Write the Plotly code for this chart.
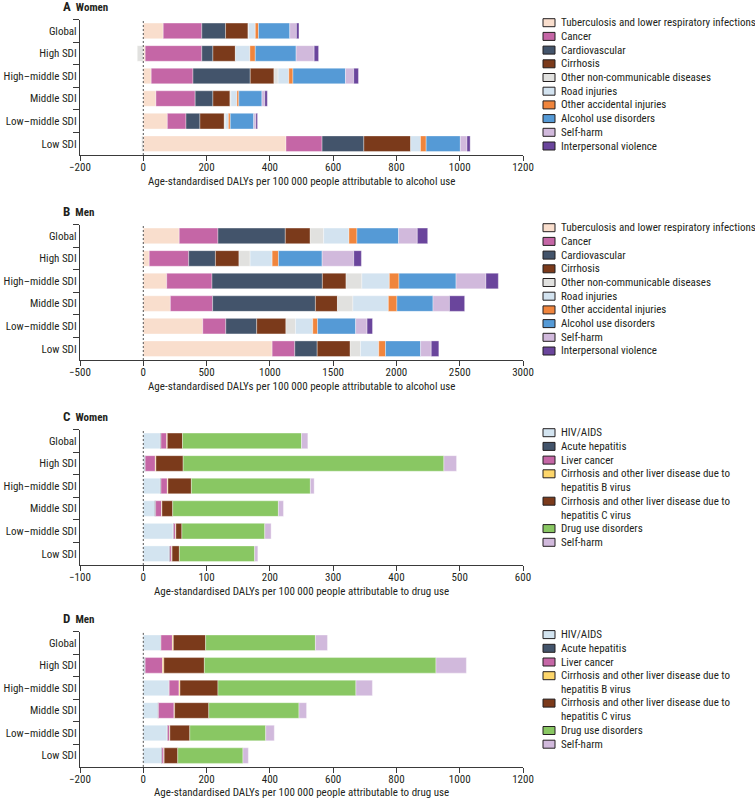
import plotly.graph_objects as go

# ---------------- data ----------------
regions = ["Global", "High SDI", "High–middle SDI", "Middle SDI", "Low–middle SDI", "Low SDI"]

alcohol_causes = ["Tuberculosis and lower respiratory infections", "Cancer", "Cardiovascular", "Cirrhosis",
                  "Other non-communicable diseases", "Road injuries", "Other accidental injuries",
                  "Alcohol use disorders", "Self-harm", "Interpersonal violence"]
alcohol_colors = ["#F9DECD", "#C566A6", "#43546B", "#7B3A1B", "#E1E1DF", "#D3E3F0",
                  "#F0853D", "#559AD6", "#D1B9DC", "#6A459C"]

drug_causes = ["HIV/AIDS", "Acute hepatitis", "Liver cancer",
               "Cirrhosis and other liver disease due to<br>hepatitis B virus",
               "Cirrhosis and other liver disease due to<br>hepatitis C virus",
               "Drug use disorders", "Self-harm"]
drug_colors = ["#D3E4F0", "#43546B", "#C566A6", "#FDD66B", "#7B3A1B", "#89C763", "#D1B9DC"]

# Panel A: women, alcohol (Global, High, High-middle, Middle, Low-middle, Low)
women_alc_tb = [63, 6, 25, 40, 76, 451]
women_alc_cancer = [122, 179, 132, 124, 59, 114]
women_alc_cardio = [75, 35, 181, 56, 44, 132]
women_alc_cirrhosis = [71, 71, 75, 54, 77, 148]
women_alc_other_ncd = [2, -19, 13, 3, 3, -5]
women_alc_road = [21, 46, 34, 19, 10, 31]
women_alc_other_acc = [10, 17, 13, 6, 6, 18]
women_alc_aud = [99, 129, 166, 73, 74, 108]
women_alc_selfharm = [21, 57, 26, 9, 7, 21]
women_alc_violence = [8, 14, 15, 8, 5, 10]

# Panel B: men, alcohol
men_alc_tb = [284, 47, 185, 214, 470, 1018]
men_alc_cancer = [306, 312, 358, 334, 182, 179]
men_alc_cardio = [532, 211, 872, 812, 244, 177]
men_alc_cirrhosis = [197, 186, 187, 174, 231, 261]
men_alc_other_ncd = [106, 88, 125, 122, 76, 81]
men_alc_road = [200, 174, 217, 280, 136, 144]
men_alc_other_acc = [63, 50, 76, 68, 38, 54]
men_alc_aud = [329, 345, 451, 285, 301, 277]
men_alc_selfharm = [148, 250, 236, 130, 90, 84]
men_alc_violence = [82, 60, 98, 120, 43, 60]

# Panel C: women, drugs
women_drug_hiv = [27, 2, 27, 18, 47, 41]
women_drug_acute_hep = [1, 1, 1, 1.5, 1, 1]
women_drug_liver_cancer = [9, 16, 10, 9.5, 3, 3]
women_drug_hep_b = [1, 1, 1, 0.5, 0.5, 0.5]
women_drug_hep_c = [24, 43, 37, 17, 9.5, 11.5]
women_drug_disorders = [188, 412, 188, 167, 131, 119]
women_drug_selfharm = [10, 20, 6, 8, 10, 5]

# Panel D: men, drugs
men_drug_hiv = [55, 4, 81, 46, 75, 57]
men_drug_acute_hep = [1, 2, 1, 2, 2, 2]
men_drug_liver_cancer = [36, 55, 31, 49, 6, 6]
men_drug_hep_b = [3, 4, 3, 2, 1, 1]
men_drug_hep_c = [102, 128, 120, 108, 63, 43]
men_drug_disorders = [347, 732, 436, 285, 240, 206]
men_drug_selfharm = [38, 96, 52, 24, 27, 17]

x_ranges = [[-200, 1200], [-500, 3000], [-100, 600], [-200, 1200]]
x_dticks = [200, 500, 100, 200]
panel_letters = ["A", "B", "C", "D"]
panel_sexes = ["Women", "Men", "Women", "Men"]
x_titles = ["Age-standardised DALYs per 100 000 people attributable to alcohol use",
            "Age-standardised DALYs per 100 000 people attributable to alcohol use",
            "Age-standardised DALYs per 100 000 people attributable to drug use",
            "Age-standardised DALYs per 100 000 people attributable to drug use"]

panels = [
    (alcohol_causes, alcohol_colors, [women_alc_tb, women_alc_cancer, women_alc_cardio, women_alc_cirrhosis,
                                      women_alc_other_ncd, women_alc_road, women_alc_other_acc, women_alc_aud,
                                      women_alc_selfharm, women_alc_violence]),
    (alcohol_causes, alcohol_colors, [men_alc_tb, men_alc_cancer, men_alc_cardio, men_alc_cirrhosis,
                                      men_alc_other_ncd, men_alc_road, men_alc_other_acc, men_alc_aud,
                                      men_alc_selfharm, men_alc_violence]),
    (drug_causes, drug_colors, [women_drug_hiv, women_drug_acute_hep, women_drug_liver_cancer, women_drug_hep_b,
                                women_drug_hep_c, women_drug_disorders, women_drug_selfharm]),
    (drug_causes, drug_colors, [men_drug_hiv, men_drug_acute_hep, men_drug_liver_cancer, men_drug_hep_b,
                                men_drug_hep_c, men_drug_disorders, men_drug_selfharm]),
]

# ---------------- layout helpers ----------------
W, H = 755, 799
FONT = "Liberation Sans Narrow, Arial Narrow, Roboto Condensed, Roboto, sans-serif"
TXT = "#231F20"
AXC = "#3A3A3A"
FS = 11

def fx(p):
    return p / W

def fy(p):
    return 1 - p / H

plot_left, plot_right = 80, 523
panel_tops = [19.6, 224.6, 429.6, 631.5]
panel_h = 135.4
LINE = 13.7

fig = go.Figure()
shapes = []
annotations = []
layout_axes = {}

for i, (causes, colors, series) in enumerate(panels):
    xa = "x" if i == 0 else f"x{i+1}"
    ya = "y" if i == 0 else f"y{i+1}"
    for name, color, vals in zip(causes, colors, series):
        fig.add_trace(go.Bar(
            y=regions, x=vals, orientation="h", name=name.replace("<br>", " "),
            marker=dict(color=color, line=dict(color="rgba(255,255,255,0.7)", width=0.5)),
            xaxis=xa, yaxis=ya, showlegend=False,
        ))
    top = panel_tops[i]
    bottom = top + panel_h
    xkey = "xaxis" if i == 0 else f"xaxis{i+1}"
    ykey = "yaxis" if i == 0 else f"yaxis{i+1}"
    layout_axes[xkey] = dict(
        domain=[fx(plot_left), fx(plot_right)], anchor=ya, range=x_ranges[i], dtick=x_dticks[i],
        tick0=x_ranges[i][0], ticks="outside", ticklen=5, tickwidth=1.2, tickcolor=AXC,
        ticklabelstandoff=-3,
        showline=True, linecolor=AXC, linewidth=1.3, showgrid=False, zeroline=False,
        tickfont=dict(family=FONT, size=FS, color=TXT), automargin=False,
    )
    layout_axes[ykey] = dict(
        domain=[fy(bottom), fy(top)], anchor=xa, type="category", categoryorder="array",
        categoryarray=regions, autorange="reversed", tickson="boundaries", ticks="outside",
        ticklen=6, tickwidth=1.2, tickcolor=AXC, showline=True, linecolor=AXC, linewidth=1.3,
        showgrid=False, zeroline=False, tickfont=dict(family=FONT, size=FS, color=TXT),
        automargin=False,
    )
    # zero dashed line
    shapes.append(dict(type="line", xref=xa, yref=f"{ya} domain", x0=0, x1=0, y0=0, y1=1,
                       line=dict(color="#555555", width=1, dash="2px,2px")))
    # panel title
    annotations.append(dict(xref="paper", yref="paper", x=fx(61), y=fy(top - 12.8), xanchor="left",
                            yanchor="middle", showarrow=False,
                            text=f"<b><span style='font-size:13px'>{panel_letters[i]}</span>  {panel_sexes[i]}</b>",
                            font=dict(family=FONT, size=FS, color=TXT)))
    # x-axis title
    annotations.append(dict(xref="paper", yref="paper", x=fx((plot_left + plot_right) / 2),
                            y=fy(min(bottom + 26.5, 792.5)),
                            xanchor="center", yanchor="middle", showarrow=False, text=x_titles[i],
                            font=dict(family=FONT, size=FS, color=TXT)))
    # custom legend
    line_y = top + 3.1
    for name, color in zip(causes, colors):
        n_lines = name.count("<br>") + 1
        shapes.append(dict(type="rect", xref="paper", yref="paper", x0=fx(543), x1=fx(555),
                           y0=fy(line_y + 4), y1=fy(line_y - 4), fillcolor=color,
                           line=dict(color="#231F20", width=1)))
        annotations.append(dict(xref="paper", yref="paper", x=fx(559), y=fy(line_y + LINE * (n_lines - 1) / 2),
                                xanchor="left", yanchor="middle", align="left", showarrow=False, text=name,
                                font=dict(family=FONT, size=FS, color=TXT)))
        line_y += LINE * n_lines

fig.update_layout(
    width=W, height=H, margin=dict(l=0, r=0, t=0, b=0), autosize=False,
    barmode="relative", bargap=0.31, plot_bgcolor="white", paper_bgcolor="white",
    shapes=shapes, annotations=annotations, showlegend=False,
    font=dict(family=FONT, size=FS, color=TXT),
    **layout_axes,
)

fig.write_html("out.html", include_plotlyjs=True, config={"displayModeBar": False},
               post_script="document.body.style.margin='0';document.body.style.overflow='hidden';")
